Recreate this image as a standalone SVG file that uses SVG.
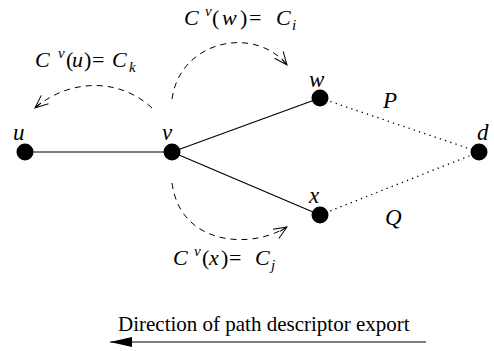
<svg xmlns="http://www.w3.org/2000/svg" width="494" height="351" viewBox="0 0 494 351">
<style>
.node{fill:#000}
.edge{stroke:#000;stroke-width:1.2;fill:none}
.dot{stroke:#000;stroke-width:1.3;fill:none;stroke-dasharray:1.3 4.2}
.dash{stroke:#000;stroke-width:1;fill:none;stroke-dasharray:6 5}
.lbl{font-family:"Liberation Serif","Times New Roman",serif;font-style:italic;font-size:23px;fill:#000}
.math{font-family:"Liberation Serif","Times New Roman",serif;font-size:22px;fill:#000}
.it{font-style:italic}
.sm{font-size:15px;font-style:italic}
.cap{font-family:"Liberation Serif","Times New Roman",serif;font-size:21px;fill:#000}
</style>
<defs>
<marker id="open" markerWidth="16" markerHeight="14" refX="14" refY="7" orient="auto" markerUnits="userSpaceOnUse">
<path d="M1,1.5 L14,7 L1,12.5 M6,7 L14,7" fill="none" stroke="#000" stroke-width="1"/>
</marker>
<marker id="solid" markerWidth="24" markerHeight="12" refX="22" refY="6" orient="auto" markerUnits="userSpaceOnUse">
<path d="M0,1 L22,6 L0,11 Z" fill="#000"/>
</marker>
</defs>
<g id="connectors">
<line class="edge" x1="25" y1="152" x2="172" y2="152"/>
<line class="edge" x1="172" y1="152" x2="320" y2="98"/>
<line class="edge" x1="172" y1="152" x2="320" y2="215"/>
<line class="dot" x1="320" y1="98" x2="479" y2="152"/>
<line class="dot" x1="320" y1="215" x2="479" y2="152"/>
<path class="dash" d="M152,108 C120,78 70,78 35,108" marker-end="url(#open)"/>
<path class="dash" d="M172,99 C180,40 255,25 287,65" marker-end="url(#open)"/>
<path class="dash" d="M172,183 C180,245 250,250 287,227" marker-end="url(#open)"/>
<line class="edge" x1="426" y1="342" x2="110" y2="342" marker-end="url(#solid)"/>
</g>
<g id="node-u"><circle class="node" cx="25" cy="152" r="8.5"/><text class="lbl" x="13" y="140">u</text></g>
<g id="node-v"><circle class="node" cx="172" cy="152" r="8.5"/><text class="lbl" x="162" y="140">v</text></g>
<g id="node-w"><circle class="node" cx="320" cy="98" r="8.5"/><text class="lbl" x="309" y="87">w</text></g>
<g id="node-x"><circle class="node" cx="320" cy="215" r="8.5"/><text class="lbl" x="309" y="203">x</text></g>
<g id="node-d"><circle class="node" cx="479" cy="152" r="8.5"/><text class="lbl" x="477" y="140">d</text></g>
<g id="labels">
<text class="lbl" x="383" y="108">P</text>
<text class="lbl" x="385" y="225">Q</text>
<text class="math" y="67"><tspan class="it" x="35">C</tspan><tspan class="sm" x="58" y="58">v</tspan><tspan x="66" y="67">(</tspan><tspan class="it" x="72">u</tspan><tspan x="84">)</tspan><tspan x="92">=</tspan><tspan class="it" x="112">C</tspan><tspan class="sm" x="129" y="72">k</tspan></text>
<text class="math" y="25"><tspan class="it" x="184">C</tspan><tspan class="sm" x="205" y="16">v</tspan><tspan x="212" y="25">(</tspan><tspan class="it" x="222">w</tspan><tspan x="240">)</tspan><tspan x="249">=</tspan><tspan class="it" x="276">C</tspan><tspan class="sm" x="292" y="30">i</tspan></text>
<text class="math" y="265"><tspan class="it" x="173">C</tspan><tspan class="sm" x="194" y="256">v</tspan><tspan x="202" y="265">(</tspan><tspan class="it" x="209">x</tspan><tspan x="221">)</tspan><tspan x="229">=</tspan><tspan class="it" x="255">C</tspan><tspan class="sm" x="271" y="270">j</tspan></text>
<text class="cap" x="118" y="331">Direction of path descriptor export</text>
</g>
</svg>
